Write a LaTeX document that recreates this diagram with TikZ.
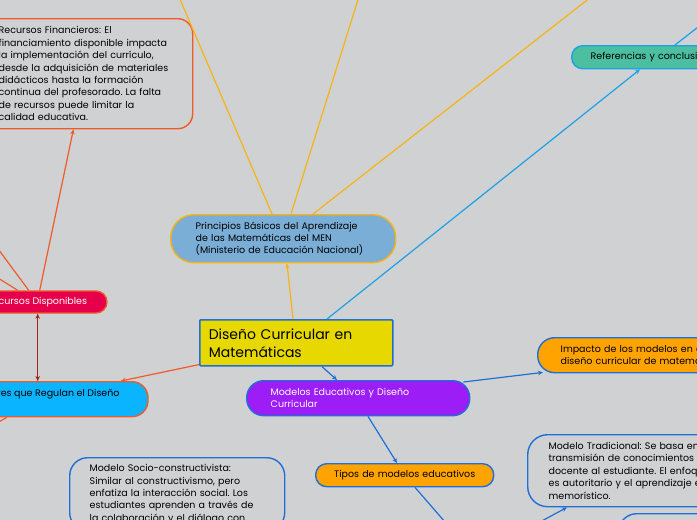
\documentclass[tikz,border=0pt]{standalone}
\usepackage{fontspec}
\setmainfont{Poppins}
\usetikzlibrary{arrows.meta,calc}
\definecolor{bg}{HTML}{D0D1D3}
\definecolor{amber}{HTML}{F6B414}
\definecolor{principios}{HTML}{7BAED6}
\definecolor{orangered}{HTML}{F05A28}
\definecolor{crimson}{HTML}{E6004C}
\definecolor{cyanf}{HTML}{0AB4FF}
\definecolor{darkred}{HTML}{A3211B}
\definecolor{yellowm}{HTML}{E6D800}
\definecolor{blueb}{HTML}{1F6FD6}
\definecolor{purplef}{HTML}{9C1DF5}
\definecolor{orangef}{HTML}{FFA300}
\definecolor{tealf}{HTML}{4BBFA0}
\definecolor{skyb}{HTML}{1DA1E6}
\newcommand{\bodyfs}{\frenchspacing\fontsize{9.5}{12.4}\selectfont}
\newcommand{\mainfs}{\frenchspacing\fontsize{14}{18}\selectfont}
\begin{document}
\begin{tikzpicture}[x=1pt,y=-1pt,
  box/.style={anchor=north west, line width=1.4pt, inner ysep=0pt, align=left, font=\bodyfs},
  conn/.style={line width=1.2pt},
  tip/.style={-{Stealth[length=5pt,width=4.5pt]}}]
\useasboundingbox (0,0) rectangle (697,520);
\clip (0,0) rectangle (697,520);
\fill[bg] (0,0) rectangle (697,520);

% nodes
\node[box, draw=orangered, rounded corners=15pt, minimum width=212pt, minimum height=110pt, text width=176pt, inner xsep=18pt] (fin) at (-20,18)
 {Recursos Financieros: El\\financiamiento disponible impacta\\la implementación del currículo,\\desde la adquisición de materiales\\didácticos hasta la formación\\continua del profesorado. La falta\\de recursos puede limitar la\\calidad educativa.};

\node[line width=1.4pt, draw=orangered, fill=crimson, text=white, rounded corners=11pt, minimum width=140pt, minimum height=22pt, inner sep=0pt, font=\bodyfs] (disp) at (37,302) {Recursos Disponibles};

\node[anchor=north, line width=1.4pt, draw=orangered, fill=cyanf, rounded corners=16pt, minimum width=191pt, inner xsep=0pt, inner ysep=0pt, text height=15pt, text depth=20pt, font=\bodyfs] (leyes) at (52.5,381) {Leyes que Regulan el Diseño};

\node[box, draw=amber, fill=principios, rounded corners=23pt, minimum width=225pt, minimum height=48pt, text width=175pt, inner xsep=25pt] (prin) at (170,214)
 {Principios Básicos del Aprendizaje\\de las Matemáticas del MEN\\(Ministerio de Educación Nacional)};

\node[box, draw=blueb, fill=yellowm, rounded corners=1pt, line width=1.6pt, minimum width=193pt, minimum height=46pt, text width=175pt, inner xsep=9pt, font=\mainfs] (main) at (199,319)
 {Diseño Curricular en\\Matemáticas};

\node[box, draw=skyb, fill=tealf, rounded corners=11pt, minimum width=200pt, minimum height=23pt, text width=162pt, inner xsep=19pt] (ref) at (571,45)
 {Referencias y conclusiones};

\node[box, draw=blueb, fill=purplef, text=white, rounded corners=17pt, minimum width=223pt, minimum height=35pt, text width=175pt, inner xsep=24pt] (mod) at (246,380)
 {Modelos Educativos y Diseño\\Curricular};

\node[box, draw=blueb, fill=orangef, rounded corners=17pt, minimum width=250pt, minimum height=35pt, text width=204pt, inner xsep=23pt] (imp) at (537,337)
 {Impacto de los modelos en el\\diseño curricular de matemáticas};

\node[box, draw=blueb, fill=orangef, rounded corners=11pt, minimum width=178pt, minimum height=23pt, text width=150pt, inner xsep=14pt, align=center] (tipos) at (315,463)
 {Tipos de modelos educativos};

\node[box, draw=blueb, rounded corners=20pt, minimum width=260pt, minimum height=72pt, text width=218pt, inner xsep=21pt] (trad) at (527,434)
 {Modelo Tradicional: Se basa en la\\transmisión de conocimientos del\\docente al estudiante. El enfoque\\es autoritario y el aprendizaje es\\memorístico.};

\node[box, draw=blueb, rounded corners=18pt, minimum width=215pt, minimum height=73pt, text width=175pt, inner xsep=20pt] (socio) at (69,457)
 {Modelo Socio-constructivista:\\Similar al constructivismo, pero\\enfatiza la interacción social. Los\\estudiantes aprenden a través de\\la colaboración y el diálogo con};

\node[box, draw=blueb, rounded corners=18pt, minimum width=200pt, minimum height=80pt] (next) at (618,513) {};

% free ends
\coordinate (e1) at (176,-10);
\coordinate (e2) at (361,-10);
\coordinate (e3) at (600,-10);
\coordinate (e4) at (720,10);
\coordinate (e5) at (452,530);
\coordinate (e6) at (525,530);
\coordinate (e7) at (-10,427);
\coordinate (e8) at (-10,238);
\coordinate (e9) at (-10,273);

% connectors
\draw[conn, amber, tip] ($(main.north west)+(94,0)$) -- ($(prin.south west)+(117,0)$);
\draw[conn, amber] ($(prin.north west)+(102,0)$) -- (e1);
\draw[conn, amber] ($(prin.north west)+(121,0)$) -- (e2);
\draw[conn, amber] ($(prin.north west)+(143,0)$) -- (e3);
\draw[conn, skyb, tip] ($(main.north west)+(128,0)$) -- ($(ref.south west)+(69,0)$);
\draw[conn, skyb] ($(ref.north west)+(104,0)$) -- (e4);
\draw[conn, blueb, tip] ($(main.south west)+(123,0)$) -- ($(mod.north west)+(91,0)$);
\draw[conn, blueb, tip] ($(mod.north east)+(-7,2)$) -- ($(imp.south west)+(6,-1)$);
\draw[conn, blueb, tip] ($(mod.south west)+(122,0)$) -- ($(tipos.north west)+(82,0)$);
\draw[conn, blueb] ($(tipos.south west)+(100,0)$) -- (e5);
\draw[conn, blueb, tip] (e6) -- ($(trad.south west)+(40,0)$);
\draw[conn, orangered, tip] ($(main.south west)+(0,-2)$) -- ($(leyes.north east)+(-28,0)$);
\draw[conn, orangered] ($(leyes.south east)+(-142,0)$) -- (e7);
\draw[conn, darkred, {Stealth[length=5pt,width=4.5pt]}-{Stealth[length=5pt,width=4.5pt]}] ($(disp.south east)+(-70,0)$) -- ($(leyes.north east)+(-111,0)$);
\draw[conn, orangered, tip] ($(disp.north east)+(-68,0)$) -- ($(fin.south east)+(-120,0)$);
\draw[conn, orangered] ($(disp.north east)+(-79,0)$) -- (e8);
\draw[conn, orangered] ($(disp.north east)+(-90,0)$) -- (e9);
\end{tikzpicture}
\end{document}
